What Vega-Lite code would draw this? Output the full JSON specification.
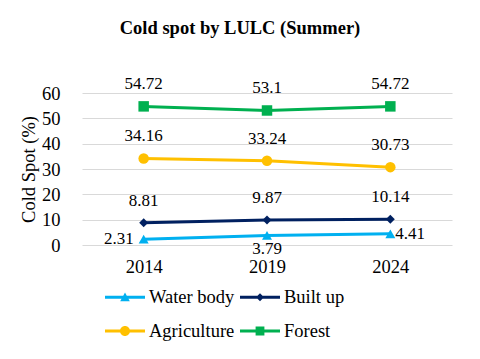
{
  "$schema": "https://vega.github.io/schema/vega-lite/v6.json",
  "width": 370,
  "height": 152,
  "autosize": {"type": "none"},
  "padding": {"left": 82, "top": 93, "right": 28, "bottom": 114},
  "background": "white",
  "title": {
    "text": "Cold spot by LULC (Summer)",
    "font": "Liberation Serif",
    "fontSize": 18.5,
    "fontWeight": "bold",
    "color": "black",
    "anchor": "middle",
    "dx": -27,
    "offset": 38
  },
  "data": {
    "values": [
      {"year": "2014", "type": "Water body", "value": 2.31},
      {"year": "2019", "type": "Water body", "value": 3.79},
      {"year": "2024", "type": "Water body", "value": 4.41},
      {"year": "2014", "type": "Built up", "value": 8.81},
      {"year": "2019", "type": "Built up", "value": 9.87},
      {"year": "2024", "type": "Built up", "value": 10.14},
      {"year": "2014", "type": "Agriculture", "value": 34.16},
      {"year": "2019", "type": "Agriculture", "value": 33.24},
      {"year": "2024", "type": "Agriculture", "value": 30.73},
      {"year": "2014", "type": "Forest", "value": 54.72},
      {"year": "2019", "type": "Forest", "value": 53.1},
      {"year": "2024", "type": "Forest", "value": 54.72}
    ]
  },
  "encoding": {
    "x": {
      "field": "year", "type": "ordinal",
      "axis": {"title": null, "labelAngle": 0, "domain": false, "ticks": false, "grid": false,
               "labelFont": "Liberation Serif", "labelFontSize": 18.5, "labelColor": "black", "labelPadding": 12}
    },
    "y": {
      "field": "value", "type": "quantitative",
      "scale": {"domain": [0, 60], "nice": false},
      "axis": {"title": "Cold Spot (%)", "values": [0, 10, 20, 30, 40, 50, 60], "domain": false, "ticks": false,
               "grid": true, "gridColor": "#D9D9D9", "gridWidth": 1,
               "labelFont": "Liberation Serif", "labelFontSize": 18.5, "labelColor": "black", "labelPadding": 22,
               "titleFont": "Liberation Serif", "titleFontSize": 18.5, "titleFontWeight": "normal", "titleColor": "black", "titlePadding": 3}
    },
    "color": {"field": "type", "type": "nominal",
      "scale": {"domain": ["Water body", "Built up", "Agriculture", "Forest"], "range": ["#00B0F0", "#002060", "#FFC000", "#00B050"]},
      "legend": {
        "title": null, "orient": "none", "legendX": 23, "legendY": 184, "columns": 2, "direction": "horizontal",
        "padding": 0, "columnPadding": 5, "rowPadding": 4, "symbolSize": 1600, "labelOffset": 4,
        "labelFont": "Liberation Serif", "labelFontSize": 18.5, "labelColor": "black", "symbolOpacity": 1,
        "encode": {
          "symbols": {
            "update": {
              "shape": {"signal": "datum.value == 'Water body' ? 'M-1,-0.075H1V0.075H-1Z M0,-0.24L0.24,0.2L-0.24,0.2Z' : datum.value == 'Built up' ? 'M-1,-0.075H1V0.075H-1Z M0,-0.2L0.2,0L0,0.2L-0.2,0Z' : datum.value == 'Agriculture' ? 'M-1,-0.075H1V0.075H-1Z M-0.25,0A0.25,0.25 0 1,1 0.25,0A0.25,0.25 0 1,1 -0.25,0Z' : 'M-1,-0.075H1V0.075H-1Z M-0.22,-0.22H0.22V0.22H-0.22Z'"},
              "strokeWidth": {"value": 0},
              "fill": {"scale": "color", "field": "value"},
              "opacity": {"value": 1}
            }
          }
        }
      }
    }
  },
  "layer": [
    {
      "mark": {"type": "line", "strokeWidth": 3}
    },
    {
      "transform": [{"filter": "datum.type == 'Water body'"}],
      "mark": {"type": "point", "filled": true, "opacity": 1, "size": 100, "shape": "triangle-up"}
    },
    {
      "transform": [{"filter": "datum.type == 'Built up'"}],
      "mark": {"type": "point", "filled": true, "opacity": 1, "size": 80, "shape": "diamond"}
    },
    {
      "transform": [{"filter": "datum.type == 'Agriculture'"}],
      "mark": {"type": "point", "filled": true, "opacity": 1, "size": 110, "shape": "circle"}
    },
    {
      "transform": [{"filter": "datum.type == 'Forest'"}],
      "mark": {"type": "point", "filled": true, "opacity": 1, "size": 110, "shape": "square"}
    },
    {
      "transform": [{"filter": "datum.type != 'Water body'"}],
      "mark": {"type": "text", "font": "Liberation Serif", "fontSize": 17, "baseline": "middle", "dy": -22},
      "encoding": {"text": {"field": "value", "type": "nominal"}, "color": {"value": "black"}}
    },
    {
      "transform": [{"filter": "datum.type == 'Water body' && datum.year == '2014'"}],
      "mark": {"type": "text", "font": "Liberation Serif", "fontSize": 17, "baseline": "middle", "align": "right", "dx": -10},
      "encoding": {"text": {"field": "value", "type": "nominal"}, "color": {"value": "black"}}
    },
    {
      "transform": [{"filter": "datum.type == 'Water body' && datum.year == '2019'"}],
      "mark": {"type": "text", "font": "Liberation Serif", "fontSize": 17, "baseline": "middle", "dy": 14},
      "encoding": {"text": {"field": "value", "type": "nominal"}, "color": {"value": "black"}}
    },
    {
      "transform": [{"filter": "datum.type == 'Water body' && datum.year == '2024'"}],
      "mark": {"type": "text", "font": "Liberation Serif", "fontSize": 17, "baseline": "middle", "align": "left", "dx": 5},
      "encoding": {"text": {"field": "value", "type": "nominal"}, "color": {"value": "black"}}
    }
  ],
  "config": {"view": {"stroke": null}, "font": "Liberation Serif"}
}
